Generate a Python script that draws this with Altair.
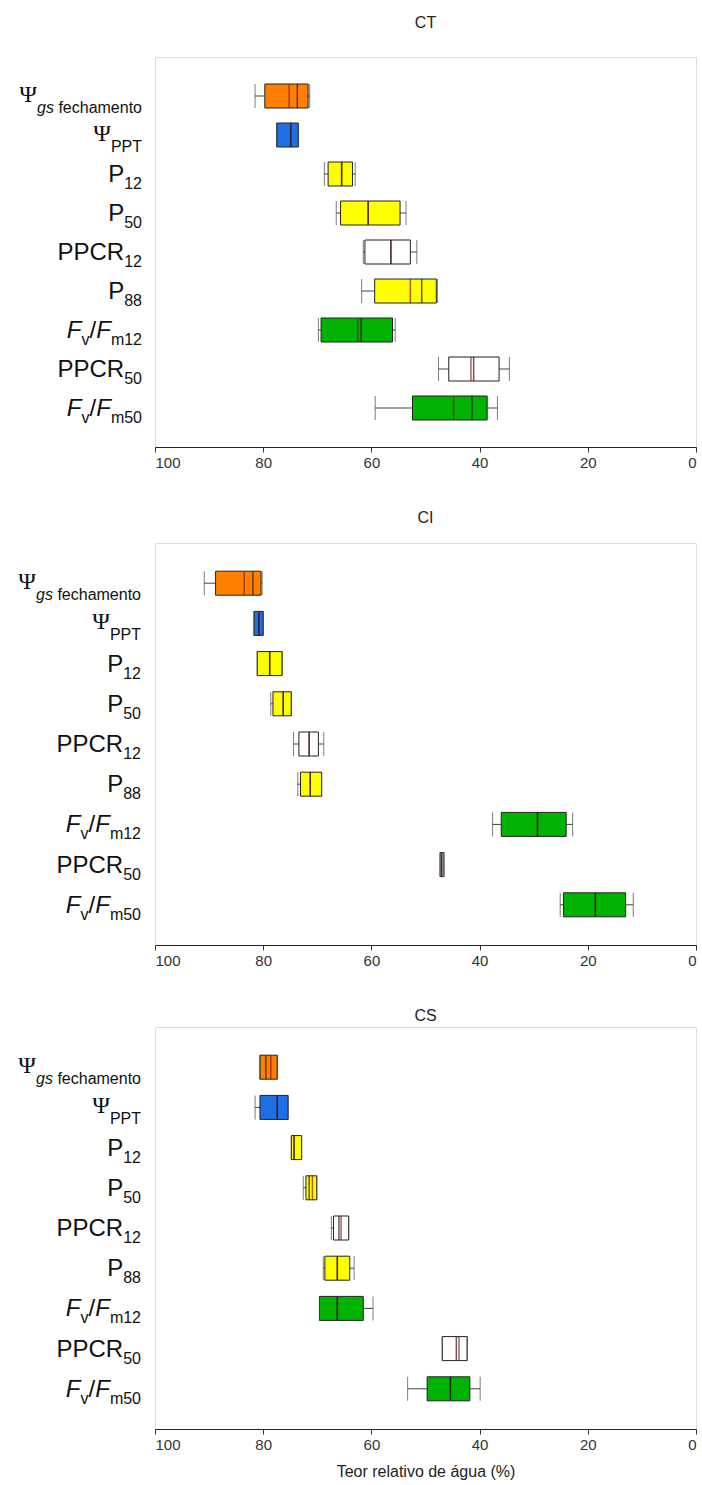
import altair as alt
import pandas as pd

categories = ["psi_gs", "psi_ppt", "P12", "P50", "PPCR12", "P88", "FvFm12", "PPCR50", "FvFm50"]
fills = ["#FF7F00", "#1E6FE6", "#FFFF00", "#FFFF00", "#FFFFFF", "#FFFF00", "#00B300", "#FFFFFF", "#00B300"]

# ---- CT ----  (hi = left whisker end, lo = right whisker end; axis is reversed)
ct_hi     = [81.5, 77.5, 68.7, 66.5, 61.5, 61.8, 69.8, 47.6, 59.3]
ct_box_hi = [79.7, 77.5, 68.0, 65.7, 61.2, 59.4, 69.3, 45.7, 52.4]
ct_median = [73.7, 74.9, 65.5, 60.6, 56.4, 50.7, 61.9, 41.1, 41.4]
ct_mean   = [75.2, 74.9, 65.5, 60.6, 56.4, 52.8, 62.5, 41.6, 44.8]
ct_box_lo = [71.7, 73.5, 63.5, 54.7, 52.8, 48.0, 56.1, 36.4, 38.6]
ct_lo     = [71.4, 73.5, 63.0, 53.6, 51.6, 47.8, 55.6, 34.5, 36.7]

# ---- CI ----
ci_hi     = [90.9, 81.7, 81.1, 78.6, 74.4, 73.6, 37.6, 47.3, 25.1]
ci_box_hi = [88.8, 81.7, 81.1, 78.2, 73.4, 73.1, 36.0, 47.3, 24.5]
ci_median = [81.9, 80.8, 78.8, 76.3, 71.5, 71.3, 29.3, 47.0, 18.6]
ci_mean   = [83.5, 80.8, 78.8, 76.3, 71.5, 71.3, 29.3, 47.0, 18.6]
ci_box_lo = [80.4, 80.0, 76.5, 74.8, 69.8, 69.2, 24.0, 46.6, 13.0]
ci_lo     = [80.2, 80.0, 76.5, 74.8, 68.8, 69.2, 22.8, 46.6, 11.6]

# ---- CS ----
cs_hi     = [80.6, 81.5, 74.8, 72.6, 67.4, 68.9, 69.6, 46.9, 53.3]
cs_box_hi = [80.6, 80.6, 74.8, 72.1, 67.0, 68.6, 69.6, 46.9, 49.7]
cs_median = [79.5, 77.4, 74.3, 71.5, 66.0, 66.3, 66.3, 44.3, 45.4]
cs_mean   = [78.6, 77.4, 74.3, 70.9, 65.6, 66.3, 66.3, 43.8, 45.4]
cs_box_lo = [77.4, 75.4, 72.9, 70.1, 64.2, 64.0, 61.5, 42.3, 41.8]
cs_lo     = [77.4, 75.4, 72.9, 70.1, 64.2, 63.2, 59.7, 42.3, 39.9]

x_ticks = [0, 20, 40, 60, 80, 100]

# label segments (text, kind)
label_parts = {
    "psi_gs": [("Ψ", "psi"), ("gs", "psisubI"), (" fechamento", "psisub")],
    "psi_ppt": [("Ψ", "psi"), ("PPT", "psisub")],
    "P12": [("P", "main"), ("12", "sub")],
    "P50": [("P", "main"), ("50", "sub")],
    "PPCR12": [("PPCR", "main"), ("12", "sub")],
    "P88": [("P", "main"), ("88", "sub")],
    "FvFm12": [("F", "mainI"), ("v", "sub"), ("/", "main"), ("F", "mainI"), ("m12", "sub")],
    "PPCR50": [("PPCR", "main"), ("50", "sub")],
    "FvFm50": [("F", "mainI"), ("v", "sub"), ("/", "main"), ("F", "mainI"), ("m50", "sub")],
}

SANS = "Liberation Sans"
SERIF = "Liberation Serif"
kinds = {
    # font, size, style, dy
    "main": (SANS, 24, "normal", 8),
    "mainI": (SANS, 24, "italic", 8),
    "sub": (SANS, 16, "normal", 15),
    "psi": (SERIF, 24, "normal", 6),
    "psisub": (SANS, 16, "normal", 17),
    "psisubI": (SANS, 16, "italic", 17),
}

WID = {"P": 667, "C": 722, "R": 722, "T": 611, "F": 611, "m": 833, "v": 500, "g": 556,
       "s": 500, " ": 278, "f": 278, "e": 556, "c": 500, "h": 556, "a": 556, "n": 556,
       "t": 278, "o": 556, "/": 278, "Ψ": 790}


def tw(s, size):
    return sum(WID.get(ch, 556) for ch in s) / 1000.0 * size


def label_frame(right_px):
    rows = []
    for cat in categories:
        r = right_px
        for txt, kind in reversed(label_parts[cat]):
            rows.append({"cat": cat, "txt": txt, "kind": kind, "xr": r})
            r -= tw(txt, kinds[kind][1])
    return pd.DataFrame(rows)


def panel(name, hi, bhi, med, mean, blo, lo, width, height, label_right, bounds_x,
          title_offset, xtitle=None):
    df = pd.DataFrame({"cat": categories, "hi": hi, "bhi": bhi, "med": med,
                       "mean": mean, "blo": blo, "lo": lo})
    ysc = alt.Scale(type="point", domain=categories, padding=1)
    xsc = alt.Scale(domain=[0, 100], reverse=True, nice=False, zero=False)
    y_ax = alt.Y("cat:N", scale=ysc,
                 axis=alt.Axis(labels=False, ticks=True, tickSize=5, domain=False,
                               title=None, tickColor="#444"))
    y_no = alt.Y("cat:N", scale=ysc, axis=None)
    xaxis = alt.Axis(values=x_ticks, format="d", grid=False, tickSize=5,
                     labelFontSize=15, labelFont=SANS, labelColor="#333",
                     tickColor="#333", domainColor="#222", labelPadding=3,
                     title=xtitle, titleFont=SANS, titleFontSize=16,
                     titleFontWeight="normal", titleColor="#222", titlePadding=11)
    base = alt.Chart(df)
    whisk = base.mark_rule(color="#444", strokeWidth=1).encode(
        x=alt.X("hi:Q", scale=xsc, axis=xaxis), x2="lo:Q", y=y_ax)
    box = base.mark_bar(size=24, stroke="#222", strokeWidth=1).encode(
        x=alt.X("bhi:Q", scale=xsc), x2="blo:Q", y=y_no,
        color=alt.Color("cat:N", scale=alt.Scale(domain=categories, range=fills), legend=None))
    cap_hi = base.mark_tick(size=24, thickness=1, color="#444").encode(
        x=alt.X("hi:Q", scale=xsc), y=y_no)
    cap_lo = base.mark_tick(size=24, thickness=1, color="#444").encode(
        x=alt.X("lo:Q", scale=xsc), y=y_no)
    mean_l = base.mark_tick(size=24, thickness=1.5, color="#8B1C1C").encode(
        x=alt.X("mean:Q", scale=xsc), y=y_no)
    med_l = base.mark_tick(size=24, thickness=1.5, color="#1a1a1a").encode(
        x=alt.X("med:Q", scale=xsc), y=y_no)
    boxes = alt.layer(whisk, box, cap_hi, cap_lo, mean_l, med_l)

    lab = label_frame(label_right)
    pxs = alt.Scale(domain=[0, width], nice=False, zero=False)
    lab_layers = []
    for k, (font, size, style, dy) in kinds.items():
        lab_layers.append(
            alt.Chart(lab).transform_filter(alt.datum.kind == k).mark_text(
                align="right", baseline="alphabetic", font=font, fontSize=size,
                fontStyle=style, dy=dy, color="#111").encode(
                x=alt.X("xr:Q", scale=pxs, axis=None), y=y_no, text="txt:N"))
    bdf = pd.DataFrame({"cat": [categories[0]], "a": [bounds_x], "b": [bounds_x + 1]})
    inv = alt.Chart(bdf).mark_rule(opacity=0).encode(
        x=alt.X("a:Q", scale=pxs, axis=None), x2="b:Q", y=y_no)
    labels = alt.layer(*lab_layers, inv)

    return alt.layer(boxes, labels).resolve_scale(x="independent").properties(
        width=width, height=height,
        title=alt.TitleParams(text=name, font=SANS, fontSize=16, fontWeight="normal",
                              color="#222", anchor="middle", frame="group",
                              offset=title_offset))


ct = panel("CT", ct_hi, ct_box_hi, ct_median, ct_mean, ct_box_lo, ct_lo,
           541, 390, -13, -150, 26)
ci = panel("CI", ci_hi, ci_box_hi, ci_median, ci_mean, ci_box_lo, ci_lo,
           541, 402, -14, -150, 17)
cs = panel("CS", cs_hi, cs_box_hi, cs_median, cs_mean, cs_box_lo, cs_lo,
           541, 402, -14, -150, 3, xtitle="Teor relativo de água (%)")

chart = alt.vconcat(ct, ci, cs, spacing=38).configure_view(
    stroke="#333", strokeWidth=1).configure(
    padding={"left": 4, "top": 14, "right": 0, "bottom": 0}, background="white")

chart.save("out.html", embed_options={"renderer": "svg", "actions": False})
